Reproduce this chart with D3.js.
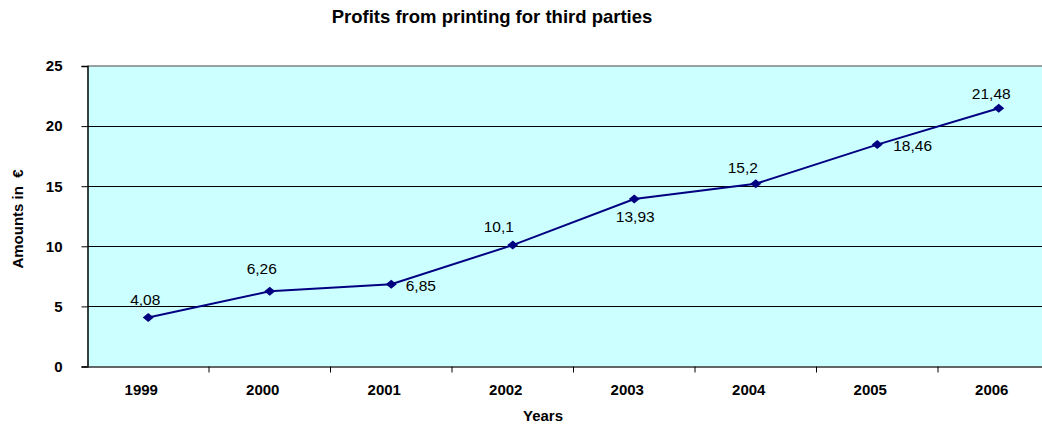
<!DOCTYPE html>
<html><head><meta charset="utf-8">
<script src="https://cdn.jsdelivr.net/npm/d3@7"></script>
<style>body{margin:0;background:#fff;overflow:hidden}svg{display:block}text{font-family:"Liberation Sans",Arial,sans-serif}</style>
</head><body>
<script>
const years = ["1999","2000","2001","2002","2003","2004","2005","2006"];
const profits = [4.08, 6.26, 6.85, 10.1, 13.93, 15.2, 18.46, 21.48];
const labelText = ["4,08","6,26","6,85","10,1","13,93","15,2","18,46","21,48"];
const yTicks = [0,5,10,15,20,25];
const title = "Profits from printing for third parties";
const xTitle = "Years";
const yTitle = "Amounts in  €";

// label placement (style): anchor, dx, dy relative to the point
const labelPlace = [["middle",-3,-12.5],["middle",-8,-17.5],["start",14.5,6.5],["middle",-14,-13.5],
  ["middle",1,23],["middle",-13,-10.5],["start",16,6],["middle",-7.5,-9]];

const W=1042,H=424;
const FONT="Liberation Sans, Arial, sans-serif";
const svg=d3.select("body").append("svg").attr("width",W).attr("height",H);
const L=87.5,R=1059.5,T=66,B=366.5;
const x=d3.scaleBand().domain(years).range([L,R]);
const y=d3.scaleLinear().domain([0,25]).range([B,T]);

svg.append("rect").attr("x",L).attr("y",T).attr("width",R-L).attr("height",B-T).attr("fill","#CCFFFF");
svg.append("g").selectAll("line").data(yTicks.filter(d=>d>0&&d<25)).join("line")
  .attr("x1",L).attr("x2",R).attr("y1",d=>Math.round(y(d))+0.5).attr("y2",d=>Math.round(y(d))+0.5)
  .attr("stroke","#000").attr("stroke-width",1);
svg.append("line").attr("x1",L).attr("x2",R).attr("y1",T).attr("y2",T).attr("stroke","#808080").attr("stroke-width",1.5);
const ya=svg.append("g").attr("transform",`translate(${L},0)`).call(d3.axisLeft(y).tickValues(yTicks).tickSize(6).tickPadding(19));
ya.select(".domain").attr("stroke","#000").attr("stroke-width",1.5);
ya.selectAll(".tick line").attr("stroke","#000");
ya.selectAll("text").attr("font-size",15).attr("font-weight","bold").attr("fill","#000").attr("font-family",FONT);
const xa=svg.append("g").attr("transform",`translate(0,${B})`).call(d3.axisBottom(x).tickSize(0).tickPadding(18));
xa.select(".domain").attr("stroke","#333").attr("stroke-width",1.5);
xa.selectAll("text").attr("font-size",15).attr("font-weight","bold").attr("fill","#000").attr("dx",-7).attr("font-family",FONT);
svg.append("g").selectAll("line").data(years.slice(1)).join("line")
  .attr("x1",d=>x(d)).attr("x2",d=>x(d)).attr("y1",B).attr("y2",B+6).attr("stroke","#000");

const cx=d=>x(d)+x.bandwidth()/2;
svg.append("path").datum(profits).attr("fill","none").attr("stroke","#000080").attr("stroke-width",2)
  .attr("d",d3.line().x((d,i)=>cx(years[i])).y(d=>y(d)));
svg.append("g").selectAll("path").data(profits).join("path")
  .attr("d",(d,i)=>{const px=cx(years[i]),py=y(d);return `M${px-5.5},${py}L${px},${py-4.5}L${px+5.5},${py}L${px},${py+4.5}Z`;})
  .attr("fill","#000080");
svg.append("g").selectAll("text").data(profits).join("text")
  .attr("x",(d,i)=>cx(years[i])+labelPlace[i][1])
  .attr("y",(d,i)=>y(d)+labelPlace[i][2])
  .attr("text-anchor",(d,i)=>labelPlace[i][0])
  .attr("font-size",15.5).attr("fill","#000")
  .text((d,i)=>labelText[i]);

svg.append("text").attr("x",492).attr("y",23).attr("text-anchor","middle").attr("font-size",18.5).attr("font-weight","bold").text(title);
svg.append("text").attr("x",543).attr("y",421).attr("text-anchor","middle").attr("font-size",15).attr("font-weight","bold").text(xTitle);
svg.append("text").attr("transform","translate(23,219) rotate(-90)").attr("text-anchor","middle").attr("font-size",15).attr("font-weight","bold")
  .style("white-space","pre").text(yTitle);
</script>
</body></html>
